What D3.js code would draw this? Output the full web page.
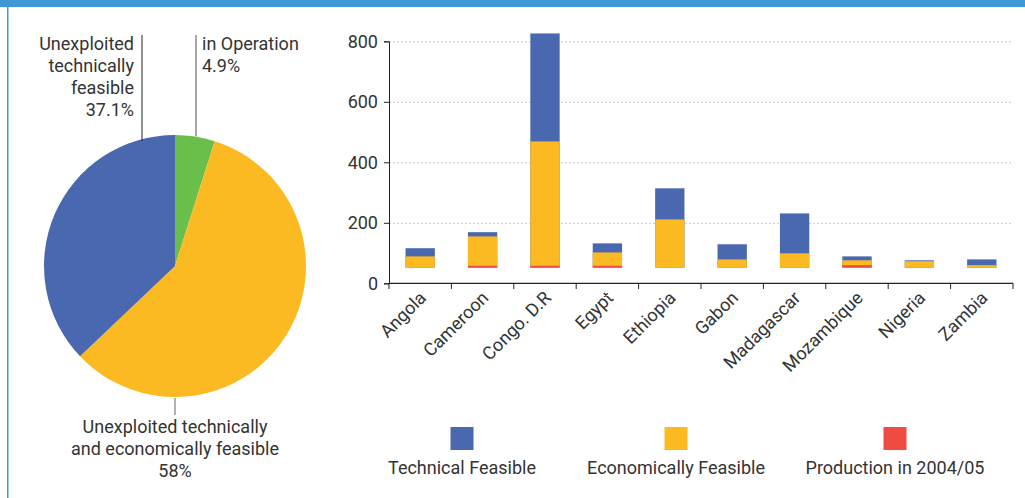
<!DOCTYPE html>
<meta charset="utf-8">
<style>
  body {
    margin: 0;
    background: #fff;
    font-family: Roboto, "Noto Sans", sans-serif;
  }

  .grid line {
    stroke: #c8c8c8;
    stroke-dasharray: 2, 2;
  }

  .axis text {
    fill: #333;
  }

  .lbl {
    fill: #333;
    font-size: 18px;
  }
</style>

<body>
  <svg width="1025" height="498"></svg>

  <script src="https://d3js.org/d3.v7.min.js"></script>
  <script>
    // pie shares
    var pieNames = ["in Operation", "Unexploited technically and economically feasible", "Unexploited technically feasible"];
    var pieShares = [4.9, 58, 37.1];
    var pieColors = ["#6abf4b", "#fbba22", "#4a68b0"];

    // bar chart (tops of each bar, in axis units)
    var countries = ["Angola", "Cameroon", "Congo. D.R", "Egypt", "Ethiopia", "Gabon", "Madagascar", "Mozambique", "Nigeria", "Zambia"];
    var technical = [116, 169, 826, 132, 314, 129, 231, 89, 76, 79];
    var economic = [89, 155, 469, 102, 211, 79, 99, 76, 73, 60];
    var production = [0, 58, 58, 58, 0, 0, 0, 60, 0, 0];
    var baseValue = 52; // bars in the source start above zero
    var yTicks = [0, 200, 400, 600, 800];

    var seriesNames = ["Technical Feasible", "Economically Feasible", "Production in 2004/05"];
    var seriesColors = ["#4a68b0", "#fbba22", "#ef4b44"];

    var svg = d3.select("svg");

    // frame
    svg.append("rect").attr("x", 0).attr("y", 0).attr("width", 1025).attr("height", 7).attr("fill", "#3f97d3");
    svg.append("rect").attr("x", 7).attr("y", 0).attr("width", 1.5).attr("height", 498).attr("fill", "#3f97d3");

    // ---- pie ----
    var pieG = svg.append("g").attr("transform", "translate(175,266)");
    var pie = d3.pie().sort(null).value(function(d) {
      return d;
    });
    var arc = d3.arc().innerRadius(0).outerRadius(131);

    pieG.selectAll("path")
      .data(pie(pieShares))
      .enter().append("path")
      .attr("d", arc)
      .attr("fill", function(d, i) {
        return pieColors[i];
      });

    // pie labels
    svg.append("line").attr("x1", 142).attr("x2", 142).attr("y1", 35).attr("y2", 141).attr("stroke", "#222").attr("stroke-width", 1);
    svg.append("line").attr("x1", 196).attr("x2", 196).attr("y1", 35).attr("y2", 136).attr("stroke", "#888").attr("stroke-width", 1.5);
    svg.append("line").attr("x1", 175).attr("x2", 175).attr("y1", 398).attr("y2", 415).attr("stroke", "#666").attr("stroke-width", 1);

    function block(x, y, anchor, lines) {
      var t = svg.append("text").attr("class", "lbl").attr("text-anchor", anchor);
      lines.forEach(function(s, i) {
        t.append("tspan").attr("x", x).attr("y", y + i * 22).text(s);
      });
    }
    block(134, 50, "end", ["Unexploited", "technically", "feasible", pieShares[2] + "%"]);
    block(202, 50, "start", [pieNames[0], pieShares[0] + "%"]);
    block(175, 433, "middle", ["Unexploited technically", "and economically feasible", pieShares[1] + "%"]);

    // ---- bars ----
    var x = d3.scaleBand().domain(countries).range([389, 1013]).paddingInner(0.53).paddingOuter(0.265);
    var y = d3.scaleLinear().domain([0, 800]).range([283.3, 41.3]);

    svg.append("g")
      .attr("class", "grid")
      .attr("transform", "translate(389,0)")
      .call(d3.axisLeft(y).tickValues(yTicks.slice(1)).tickSize(-624).tickFormat(""))
      .call(function(g) {
        g.select(".domain").remove();
      });

    var rows = countries.map(function(c, i) {
      return {
        c: c,
        v: [technical[i], economic[i], production[i]]
      };
    });

    [0, 1, 2].forEach(function(k) {
      svg.append("g").selectAll("rect")
        .data(rows.filter(function(d) {
          return d.v[k] > baseValue;
        }))
        .enter().append("rect")
        .attr("x", function(d) {
          return x(d.c);
        })
        .attr("width", x.bandwidth())
        .attr("y", function(d) {
          return y(d.v[k]);
        })
        .attr("height", function(d) {
          return y(baseValue) - y(d.v[k]);
        })
        .attr("fill", seriesColors[k]);
    });

    var yAxis = svg.append("g")
      .attr("class", "axis")
      .attr("transform", "translate(389,0)")
      .call(d3.axisLeft(y).tickValues(yTicks).tickSize(5).tickPadding(6));
    yAxis.selectAll("text").style("font-size", "18px").style("font-family", "Roboto");
    yAxis.selectAll("line, path").attr("stroke", "#222");

    // x axis: ticks at band edges
    var edges = countries.map(function(c) {
      return x(c) - x.step() * x.paddingInner() / 2;
    });
    edges.push(1013);
    var xg = svg.append("g").attr("class", "axis");
    xg.append("line").attr("x1", 389).attr("x2", 1013).attr("y1", 283.3).attr("y2", 283.3).attr("stroke", "#222").attr("stroke-width", 1.2);
    xg.selectAll(".tk").data(edges).enter().append("line")
      .attr("x1", function(d) {
        return d;
      })
      .attr("x2", function(d) {
        return d;
      })
      .attr("y1", 283.3).attr("y2", 289).attr("stroke", "#222");
    xg.selectAll(".cl").data(countries).enter().append("text")
      .attr("text-anchor", "end")
      .style("font-size", "18px")
      .attr("transform", function(d) {
        return "translate(" + (x(d) + x.bandwidth() / 2 + 7) + ",299) rotate(-45)";
      })
      .text(function(d) {
        return d;
      });

    // legend
    var legX = [462, 676, 895];
    seriesNames.forEach(function(n, i) {
      svg.append("rect").attr("x", legX[i] - 11.5).attr("y", 427).attr("width", 23).attr("height", 23).attr("fill", seriesColors[i]);
      svg.append("text").attr("class", "lbl").attr("text-anchor", "middle")
        .attr("x", legX[i]).attr("y", 474).text(n);
    });
  </script>
</body>
